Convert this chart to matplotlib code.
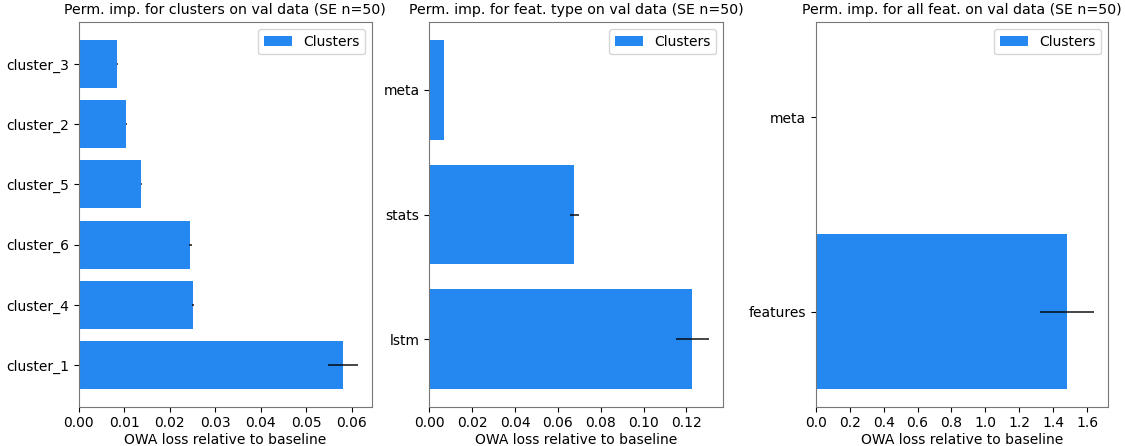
import matplotlib
matplotlib.use("Agg")
import matplotlib.pyplot as plt
from matplotlib.ticker import MultipleLocator

# Panel 1: clusters
cluster_names = ["cluster_1", "cluster_4", "cluster_6", "cluster_5", "cluster_2", "cluster_3"]
cluster_vals = [0.0580, 0.0251, 0.0245, 0.0137, 0.0104, 0.0085]
cluster_errs = [0.0033, 0.0002, 0.0003, 0.0001, 0.0001, 0.0001]

# Panel 2: feature types
ftype_names = ["lstm", "stats", "meta"]
ftype_vals = [0.1227, 0.0676, 0.0069]
ftype_errs = [0.0077, 0.0021, 0.0001]

# Panel 3: all features
all_names = ["features", "meta"]
all_vals = [1.482, 0.004]
all_errs = [0.158, 0.0005]

titles = [
    "Perm. imp. for clusters on val data (SE n=50)",
    "Perm. imp. for feat. type on val data (SE n=50)",
    "Perm. imp. for all feat. on val data (SE n=50)",
]
xlabel = "OWA loss relative to baseline"
legend_label = "Clusters"
bar_color = "#2488f0"

fig = plt.figure(figsize=(11.25, 4.46), dpi=100)
positions = [
    [0.0700, 0.0881, 0.2604, 0.8619],
    [0.3816, 0.0881, 0.2608, 0.8619],
    [0.7253, 0.0881, 0.2593, 0.8619],
]
datasets = [
    (cluster_names, cluster_vals, cluster_errs),
    (ftype_names, ftype_vals, ftype_errs),
    (all_names, all_vals, all_errs),
]

axes = []
for pos, (names, vals, errs), title in zip(positions, datasets, titles):
    ax = fig.add_axes(pos)
    ax.barh(names, vals, xerr=errs, color=bar_color, label=legend_label,
            error_kw=dict(ecolor="black", elinewidth=1.2, alpha=0.85))
    ax.set_title(title, fontsize=10.2)
    ax.set_xlabel(xlabel, fontsize=10, labelpad=2)
    ax.tick_params(labelsize=10)
    for s in ax.spines.values():
        s.set_color("#777777")
    ax.legend(loc="upper right", fontsize=10)
    axes.append(ax)

axes[2].xaxis.set_major_locator(MultipleLocator(0.2))

fig.savefig("out.png", dpi=100)
